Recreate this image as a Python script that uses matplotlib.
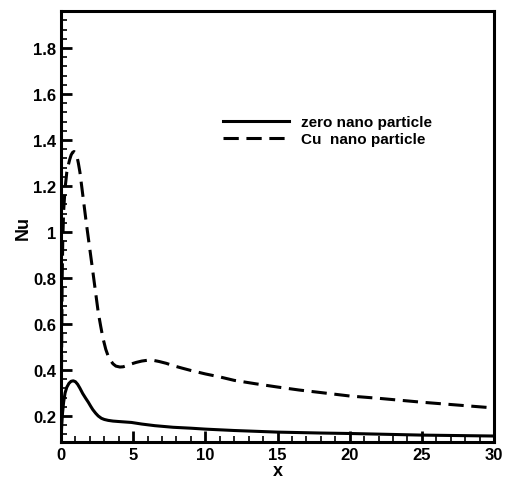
import numpy as np
import matplotlib
matplotlib.use('Agg')
import matplotlib.pyplot as plt
from matplotlib.ticker import MultipleLocator

plt.rcParams['font.family'] = ['Liberation Sans', 'DejaVu Sans']
plt.rcParams['font.weight'] = 'bold'

# zero nano particle (solid)
x_zero = [0, 0.05, 0.1, 0.18, 0.28, 0.4, 0.55, 0.7, 0.85, 1.0, 1.15, 1.3, 1.5, 1.7, 1.89,
          2.05, 2.2, 2.4, 2.58, 2.8, 3.0, 3.27, 3.6, 4.0, 4.88, 5.6, 6.5, 7.77, 9, 10, 12,
          15, 18, 20, 25, 30]
nu_zero = [0.1, 0.16, 0.21, 0.26, 0.30, 0.325, 0.342, 0.351, 0.353, 0.349, 0.338, 0.322,
           0.298, 0.278, 0.26, 0.243, 0.228, 0.212, 0.20, 0.19, 0.185, 0.181, 0.178, 0.176,
           0.172, 0.165, 0.158, 0.151, 0.147, 0.143, 0.137, 0.13, 0.126, 0.124, 0.117, 0.113]

# Cu nano particle (dashed)
x_cu = [0, 0.02, 0.05, 0.08, 0.12, 0.18, 0.28, 0.4, 0.5, 0.6, 0.7, 0.8, 0.9, 1.0, 1.1,
        1.2, 1.31, 1.45, 1.61, 1.75, 1.9, 2.05, 2.2, 2.4, 2.58, 2.75, 2.9, 3.1, 3.27,
        3.45, 3.6, 3.8, 4.08, 4.3, 4.6, 4.9, 5.2, 5.6, 6.05, 6.4, 6.8, 7.3, 7.77, 8.4, 9,
        10, 11, 12, 13.5, 15, 16.5, 18, 20, 22, 25, 28, 30]
nu_cu = [0.1, 0.3, 0.55, 0.8, 0.96, 1.09, 1.19, 1.26, 1.29, 1.315, 1.335, 1.346, 1.35,
         1.345, 1.33, 1.30, 1.26, 1.19, 1.11, 1.04, 0.97, 0.90, 0.83, 0.735, 0.65, 0.59,
         0.54, 0.49, 0.46, 0.44, 0.427, 0.417, 0.413, 0.414, 0.42, 0.427, 0.433, 0.439,
         0.443, 0.442, 0.437, 0.429, 0.419, 0.408, 0.398, 0.383, 0.37, 0.355, 0.34, 0.326,
         0.313, 0.302, 0.287, 0.277, 0.26, 0.245, 0.235]

fig = plt.figure(figsize=(5.06, 4.81), dpi=100)
ax = fig.add_axes([0.1206, 0.079, 0.8557, 0.896])

ax.plot(x_zero, nu_zero, color='black', lw=2.2, label='zero nano particle')
ax.plot(x_cu, nu_cu, color='black', lw=2.2, linestyle=(0, (5, 2.5)), label='Cu  nano particle')

ax.set_xlim(0, 30)
ax.set_ylim(0.087, 1.961)
ax.xaxis.set_major_locator(MultipleLocator(5))
ax.xaxis.set_minor_locator(MultipleLocator(1))
ax.yaxis.set_minor_locator(MultipleLocator(0.04))
ax.set_yticks([0.2, 0.4, 0.6, 0.8, 1.0, 1.2, 1.4, 1.6, 1.8])
ax.set_yticklabels(['0.2', '0.4', '0.6', '0.8', '1', '1.2', '1.4', '1.6', '1.8'])

ax.tick_params(which='both', direction='in', top=False, right=False, labelsize=12)
ax.tick_params(which='major', length=8, width=2)
ax.tick_params(which='minor', length=4, width=1.2)
for s in ax.spines.values():
    s.set_linewidth(2.2)

ax.set_xlabel('x', fontsize=13, fontweight='bold', labelpad=0)
ax.set_ylabel('Nu', fontsize=13, fontweight='bold', labelpad=1)

leg = ax.legend(loc='upper left', bbox_to_anchor=(0.342, 0.79), frameon=False,
                fontsize=11, handlelength=4.35, handletextpad=0.75, labelspacing=0.2)

fig.savefig('out.png', dpi=100)
